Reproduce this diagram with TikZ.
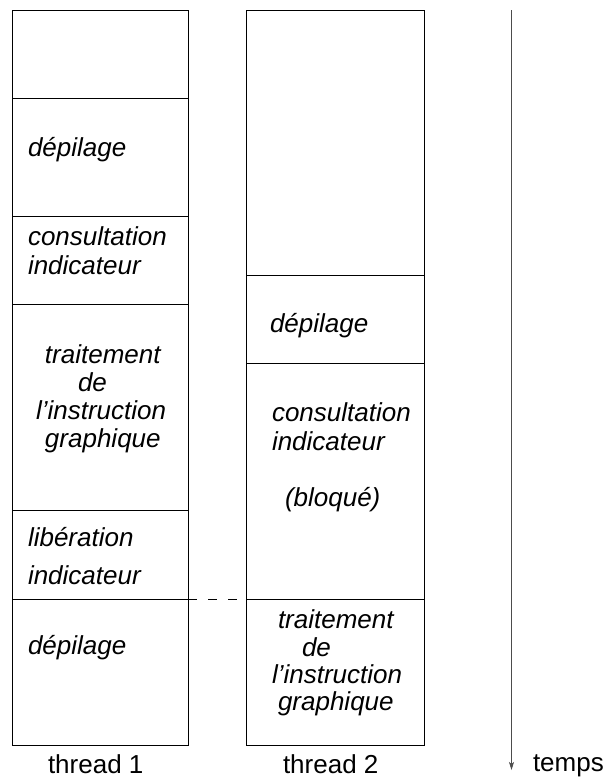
\documentclass[tikz,border=0pt]{standalone}
\usepackage{fontspec}
\setmainfont{Liberation Sans}
\usetikzlibrary{arrows.meta}
\begin{document}
\begin{tikzpicture}[x=1pt,y=-1pt,
  box/.style={draw=black,line width=0.9pt,inner sep=0pt,outer sep=0pt,anchor=north west},
  lbl/.style={anchor=base west,inner sep=0pt,outer sep=0pt,font=\fontsize{26}{29}\selectfont\itshape},
  caption/.style={anchor=base west,inner sep=0pt,outer sep=0pt,font=\fontsize{26}{29}\selectfont},
  dashline/.style={draw=black,line width=0.9pt,dash pattern=on 9pt off 11pt},
  timearrow/.style={draw=black!70,line width=0.7pt,-{Stealth[length=8pt,width=5pt,inset=2pt]}}]
\useasboundingbox (0,0) rectangle (606,777);
% thread 1 column
\node[box,minimum width=176pt,minimum height=88.5pt] (a0) at (12,10) {};
\node[box,minimum width=176pt,minimum height=117.5pt] (a1) at (12,98.5) {};
\node[box,minimum width=176pt,minimum height=88pt] (a2) at (12,216) {};
\node[box,minimum width=176pt,minimum height=206.5pt] (a3) at (12,304) {};
\node[box,minimum width=176pt,minimum height=88.5pt] (a4) at (12,510.5) {};
\node[box,minimum width=176pt,minimum height=146.5pt] (a5) at (12,599) {};
% thread 2 column
\node[box,minimum width=177.5pt,minimum height=265pt] (b0) at (246.5,10) {};
\node[box,minimum width=177.5pt,minimum height=88.5pt] (b1) at (246.5,275) {};
\node[box,minimum width=177.5pt,minimum height=235.5pt] (b2) at (246.5,363.5) {};
\node[box,minimum width=177.5pt,minimum height=146.5pt] (b3) at (246.5,599) {};
% labels column 1
\node[lbl] (l1) at (28,156) {dépilage};
\node[lbl] (l2) at (28,245) {consultation};
\node[lbl] (l3) at (28,274) {indicateur};
\node[lbl] (l4) at (45,363) {traitement};
\node[lbl] (l5) at (78,391) {de};
\node[lbl] (l6) at (36,419) {l’instruction};
\node[lbl] (l7) at (45,447) {graphique};
\node[lbl] (l8) at (28,546.5) {libération};
\node[lbl] (l9) at (28,584) {indicateur};
\node[lbl] (l10) at (28,654) {dépilage};
% labels column 2
\node[lbl] (r1) at (270,332) {dépilage};
\node[lbl] (r2) at (272,421) {consultation};
\node[lbl] (r3) at (272,450) {indicateur};
\node[lbl] (r4) at (285,506) {(bloqué)};
\node[lbl] (r5) at (278,628) {traitement};
\node[lbl] (r6) at (302,656) {de};
\node[lbl] (r7) at (272,683) {l’instruction};
\node[lbl] (r8) at (278,710) {graphique};
% captions
\node[caption] (c1) at (48,773) {thread 1};
\node[caption] (c2) at (283,773) {thread 2};
\node[caption] (c3) at (533,771) {temps};
% dashed link
\draw[dashline] (a4.south east) -- (b3.north west);
% time arrow
\coordinate (t0) at (511.5,10);
\coordinate (t1) at (511.5,770);
\draw[timearrow] (t0) -- (t1);
\end{tikzpicture}
\end{document}
